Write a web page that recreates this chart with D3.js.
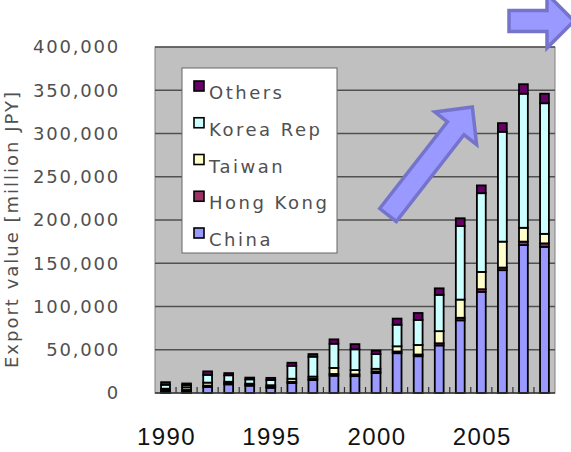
<!DOCTYPE html>
<html>
<head>
<meta charset="utf-8">
<script src="https://cdn.jsdelivr.net/npm/d3@7/dist/d3.min.js"></script>
<style>
  html, body { margin: 0; padding: 0; background: #fff; }
  svg { display: block; }
</style>
</head>
<body>
<svg id="chart" width="571" height="452"></svg>
<script>
// ---- data (million JPY) ----
const years  = [1990,1991,1992,1993,1994,1995,1996,1997,1998,1999,2000,2001,2002,2003,2004,2005,2006,2007,2008];
const china  = [1500,2000,7000,10000,8500,6000,11500,15000,20000,19500,23000,46000,42500,55000,84000,117000,142000,171000,169000];
const hongKong = [1500,1500,1500,1000,800,1000,1500,1500,2000,2000,2000,2000,2000,2500,3000,3000,3000,4000,4000];
const taiwan = [2000,3000,3500,2000,1500,2000,3500,2500,7000,5000,3000,6000,11000,14000,21000,20000,30000,16000,11000];
const korea  = [4500,2500,9000,7500,5000,6000,15000,23000,28000,24000,17000,25000,29000,42000,85000,91000,127000,155000,151000];
const others = [3000,2000,4000,2500,2000,2500,3500,3000,5000,6000,4000,7000,8000,7500,9000,9000,10000,11000,11000];
const seriesNames = ["China","Hong Kong","Taiwan","Korea Rep","Others"];
const seriesColors = ["#9999ff","#993366","#ffffcc","#ccffff","#660066"];
const yTicks = [0,50000,100000,150000,200000,250000,300000,350000,400000];
const xLabelYears = [1990,1995,2000,2005];

const rows = years.map((y,i) => ({
  year: y, "China": china[i], "Hong Kong": hongKong[i], "Taiwan": taiwan[i],
  "Korea Rep": korea[i], "Others": others[i]
}));

const svg = d3.select("#chart");
const L = 155, R = 555, T = 47, B = 393;

const x = d3.scaleBand().domain(years).range([L, R]).paddingInner(0.58).paddingOuter(0.29);
const y = d3.scaleLinear().domain([0, 400000]).range([B, T]);
const color = d3.scaleOrdinal().domain(seriesNames).range(seriesColors);

// plot area
svg.append("rect").attr("x", L).attr("y", T).attr("width", R - L).attr("height", B - T)
  .attr("fill", "#c0c0c0").attr("stroke", "#808080").attr("stroke-width", 1);

// gridlines
svg.append("g").selectAll("line").data(yTicks.filter(d => d > 0)).join("line")
  .attr("x1", L).attr("x2", R).attr("y1", d => y(d)).attr("y2", d => y(d))
  .attr("stroke", "#505050").attr("stroke-width", 1.6);

// x tick marks at category boundaries (inside)
const step = x.step();
svg.append("g").selectAll("line").data(years.slice(1)).join("line")
  .attr("x1", d => x(d) - (step - x.bandwidth()) / 2)
  .attr("x2", d => x(d) - (step - x.bandwidth()) / 2)
  .attr("y1", B).attr("y2", B - 6)
  .attr("stroke", "#333").attr("stroke-width", 1.2);

// stacked bars
const stack = d3.stack().keys(seriesNames)(rows);
svg.append("g").selectAll("g").data(stack).join("g")
  .attr("fill", d => color(d.key))
  .selectAll("rect").data(d => d).join("rect")
  .attr("x", d => x(d.data.year))
  .attr("width", x.bandwidth())
  .attr("y", d => y(d[1]))
  .attr("height", d => y(d[0]) - y(d[1]))
  .attr("stroke", "#000").attr("stroke-width", 1.8);

// axis baseline
svg.append("line").attr("x1", L).attr("x2", R).attr("y1", B).attr("y2", B)
  .attr("stroke", "#333").attr("stroke-width", 1.5);

// y tick labels
const fmt = d3.format(",");
svg.append("g").selectAll("text").data(yTicks).join("text")
  .attr("x", 120).attr("y", d => y(d)).attr("dy", "0.36em")
  .attr("text-anchor", "end")
  .attr("font-family", "DejaVu Sans").attr("font-size", 18)
  .attr("letter-spacing", 1.8)
  .attr("fill", "#505050")
  .text(d => fmt(d));

// x labels
svg.append("g").selectAll("text").data(xLabelYears).join("text")
  .attr("x", d => x(d) + x.bandwidth() / 2 + 1).attr("y", 445)
  .attr("text-anchor", "middle")
  .attr("font-family", "Liberation Sans, Arial, sans-serif").attr("font-size", 24)
  .attr("letter-spacing", 1.4)
  .attr("fill", "#111")
  .text(d => d);

// y axis title
svg.append("text")
  .attr("transform", "translate(18,229) rotate(-90)")
  .attr("text-anchor", "middle")
  .attr("font-family", "DejaVu Sans").attr("font-size", 18)
  .attr("letter-spacing", 2)
  .attr("fill", "#505050")
  .text("Export value [million JPY]");

// legend
const lg = svg.append("g");
lg.append("rect").attr("x", 182).attr("y", 68).attr("width", 155).attr("height", 185)
  .attr("fill", "#fff").attr("stroke", "#666").attr("stroke-width", 1);
const legendOrder = seriesNames.slice().reverse();
const ly = d3.scalePoint().domain(legendOrder).range([99, 246]);
const items = lg.selectAll("g").data(legendOrder).join("g");
items.append("rect").attr("x", 194).attr("y", d => ly(d) - 18).attr("width", 10).attr("height", 10)
  .attr("fill", d => color(d)).attr("stroke", "#000").attr("stroke-width", 1.6);
items.append("text").attr("x", 209).attr("y", d => ly(d))
  .attr("font-family", "DejaVu Sans").attr("font-size", 18)
  .attr("letter-spacing", 2.5)
  .attr("fill", "#505050")
  .text(d => d);

// decorative arrows
function arrowPath(len, shaftW, headW, headL) {
  const s = len - headL;
  return `M0,${-shaftW/2} L${s},${-shaftW/2} L${s},${-headW/2} L${len},0 L${s},${headW/2} L${s},${shaftW/2} L0,${shaftW/2} Z`;
}
svg.append("path")
  .attr("d", arrowPath(137, 21, 53, 27))
  .attr("transform", "translate(388,215) rotate(-52)")
  .attr("fill", "#9999ff").attr("stroke", "#7474cc").attr("stroke-width", 3.5)
  .attr("stroke-linejoin", "miter");
svg.append("path")
  .attr("d", arrowPath(65, 21, 54, 27))
  .attr("transform", "translate(509,21)")
  .attr("fill", "#9999ff").attr("stroke", "#7474cc").attr("stroke-width", 3.5)
  .attr("stroke-linejoin", "miter");
</script>
</body>
</html>
